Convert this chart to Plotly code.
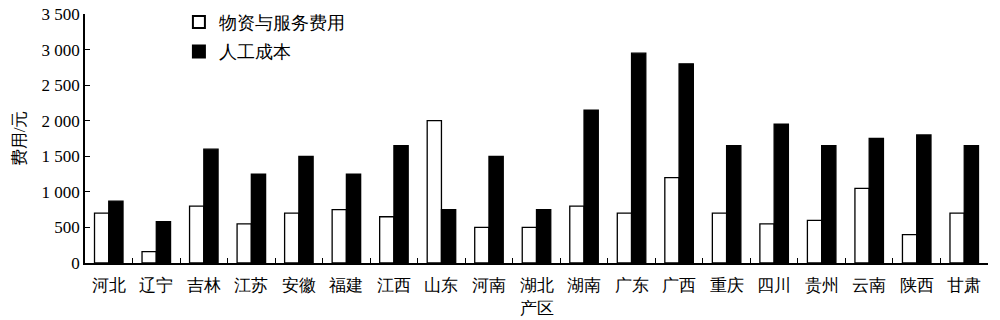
import plotly.graph_objects as go

regions = ["河北", "辽宁", "吉林", "江苏", "安徽", "福建", "江西", "山东", "河南", "湖北",
           "湖南", "广东", "广西", "重庆", "四川", "贵州", "云南", "陕西", "甘肃"]
material_service = [700, 160, 800, 550, 700, 750, 650, 2000, 500, 500,
                    800, 700, 1200, 700, 550, 600, 1050, 400, 700]
labor_cost = [870, 580, 1600, 1250, 1500, 1250, 1650, 750, 1500, 750,
              2150, 2950, 2800, 1650, 1950, 1650, 1750, 1800, 1650]
y_tickvals = [0, 500, 1000, 1500, 2000, 2500, 3000, 3500]
y_ticktext = ["0", "500", "1 000", "1 500", "2 000", "2 500", "3 000", "3 500"]

FONT = "Liberation Serif"

fig = go.Figure()
fig.add_trace(go.Bar(x=regions, y=material_service, name="物资与服务费用", legendgroup="a",
                     marker=dict(color="white", line=dict(color="black", width=1.3))))
fig.add_trace(go.Bar(x=regions, y=labor_cost, name="人工成本", legendgroup="b",
                     marker=dict(color="black", line=dict(color="black", width=1.3))))

fig.update_layout(
    width=1000, height=320,
    margin=dict(l=85, r=12, t=14, b=57, autoexpand=False),
    paper_bgcolor="white", plot_bgcolor="white",
    barmode="group", bargap=0.4, bargroupgap=0,
    font=dict(family=FONT, size=16, color="black"),
    showlegend=True,
    legend=dict(x=0.104, y=1.041, xanchor="left", yanchor="top",
                font=dict(family=FONT, size=18, color="black"),
                traceorder="grouped", tracegroupgap=3,
                bgcolor="rgba(0,0,0,0)", itemsizing="constant", itemwidth=30),
    xaxis=dict(
        showline=True, linecolor="black", linewidth=1.5,
        ticks="inside", tickson="boundaries", ticklen=5, tickcolor="black", tickwidth=1.2,
        showgrid=False, zeroline=False, ticklabelstandoff=6, automargin=False,
        tickfont=dict(family=FONT, size=17, color="black"),
        title=dict(text="产区", font=dict(family=FONT, size=17, color="black"), standoff=8),
    ),
    yaxis=dict(
        range=[0, 3500], automargin=False,
        showline=True, linecolor="black", linewidth=1.5,
        ticks="inside", ticklen=5, tickcolor="black", tickwidth=1.2,
        tickvals=y_tickvals, ticktext=y_ticktext,
        showgrid=False, zeroline=False,
        tickfont=dict(family=FONT, size=17, color="black"),
        title=dict(text="费用/元", font=dict(family=FONT, size=17, color="black"), standoff=12),
    ),
)

fig.write_html("out.html")
